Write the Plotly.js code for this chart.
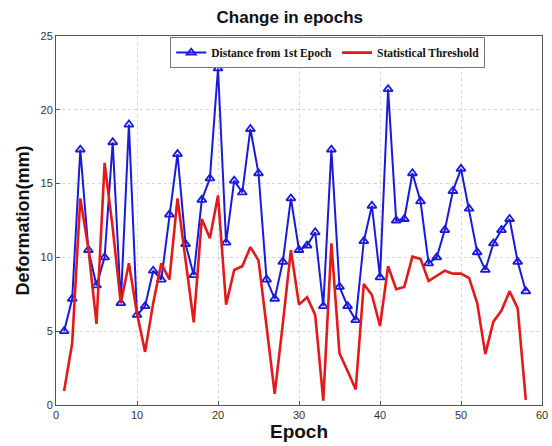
<!DOCTYPE html>
<html>
<head>
<meta charset="utf-8">
<script src="https://cdn.plot.ly/plotly-3.0.1.min.js"></script>
<style>html,body{margin:0;padding:0;background:#fff;}#chart{width:552px;height:446px;}</style>
</head>
<body>
<div id="chart"></div>
<script>
const epochs = [1,2,3,4,5,6,7,8,9,10,11,12,13,14,15,16,17,18,19,20,21,22,23,24,25,26,27,28,29,30,31,32,33,34,35,36,37,38,39,40,41,42,43,44,45,46,47,48,49,50,51,52,53,54,55,56,57,58];
const distanceFromFirst = [5.0,7.2,17.3,10.5,8.1,10.0,17.8,6.9,19.0,6.1,6.7,9.1,8.5,12.9,17.0,10.9,8.8,13.9,15.35,22.8,11.0,15.2,14.4,18.7,15.7,8.5,7.2,9.7,14.0,10.5,10.8,11.7,6.7,17.3,8.0,6.7,5.75,11.1,13.5,8.65,21.4,12.5,12.6,15.7,13.8,9.6,10.0,11.85,14.5,16.0,13.3,10.35,9.15,10.95,11.85,12.6,9.7,7.7];
const statThreshold = [0.95,4.2,14.0,10.6,5.5,16.4,12.0,6.9,9.6,6.2,3.6,6.9,9.6,8.5,14.0,9.7,5.6,12.6,11.3,14.2,6.8,9.15,9.4,10.7,9.8,5.3,0.75,5.5,10.5,6.8,7.3,6.1,0.3,10.95,3.5,2.3,1.05,8.2,7.45,5.35,9.4,7.85,8.0,10.05,9.9,8.4,8.75,9.1,8.9,8.9,8.6,6.9,3.45,5.65,6.4,7.7,6.55,0.35];
const xTicks = [0,10,20,30,40,50,60];
const yTicks = [0,5,10,15,20,25];

const traces = [
  {x: epochs, y: distanceFromFirst, type: 'scatter', mode: 'lines+markers', name: 'Distance from 1st Epoch',
   line: {color: '#1a1adc', width: 2},
   marker: {symbol: 'triangle-up-open', size: 8, color: '#1a1adc', line: {width: 1.8, color: '#1a1adc'}}},
  {x: epochs, y: statThreshold, type: 'scatter', mode: 'lines', name: 'Statistical Threshold',
   line: {color: '#e41a1a', width: 2.6}}
];

const axisCommon = {
  showline: true, linecolor: '#555', linewidth: 1, mirror: true,
  ticks: 'inside', ticklen: 4, tickcolor: '#555',
  showgrid: true, gridcolor: '#d6d6d6', griddash: 'dot', gridwidth: 1,
  zeroline: false,
  tickfont: {family: 'Liberation Sans, Arial, sans-serif', size: 11, color: '#333'}
};

const layout = {
  width: 552, height: 446,
  margin: {l: 56, r: 10, t: 36, b: 41},
  paper_bgcolor: '#fff', plot_bgcolor: '#fff',
  title: {text: '<b>Change in epochs</b>', x: 0.525, xanchor: 'center', y: 0.962, yanchor: 'middle',
          font: {family: 'Liberation Sans, Arial, sans-serif', size: 17, color: '#111'}},
  xaxis: Object.assign({}, axisCommon, {range: [0, 60], tickvals: xTicks,
          title: {text: '<b>Epoch</b>', standoff: 2, font: {family: 'Liberation Sans, Arial, sans-serif', size: 19, color: '#111'}}}),
  yaxis: Object.assign({}, axisCommon, {range: [0, 25], tickvals: yTicks,
          title: {text: '<b>Deformation(mm)</b>', standoff: 6, font: {family: 'Liberation Sans, Arial, sans-serif', size: 18, color: '#111'}}}),
  legend: {orientation: 'h', x: 0.235, xanchor: 'left', y: 0.997, yanchor: 'top',
           bgcolor: '#fff', bordercolor: '#777', borderwidth: 1,
           font: {family: 'Liberation Serif, Times New Roman, serif', size: 11.5, color: '#111', weight: 'bold'},
           itemwidth: 30, tracegroupgap: 0},
  showlegend: true
};

Plotly.newPlot('chart', traces, layout, {displayModeBar: false, staticPlot: true});
</script>
</body>
</html>
